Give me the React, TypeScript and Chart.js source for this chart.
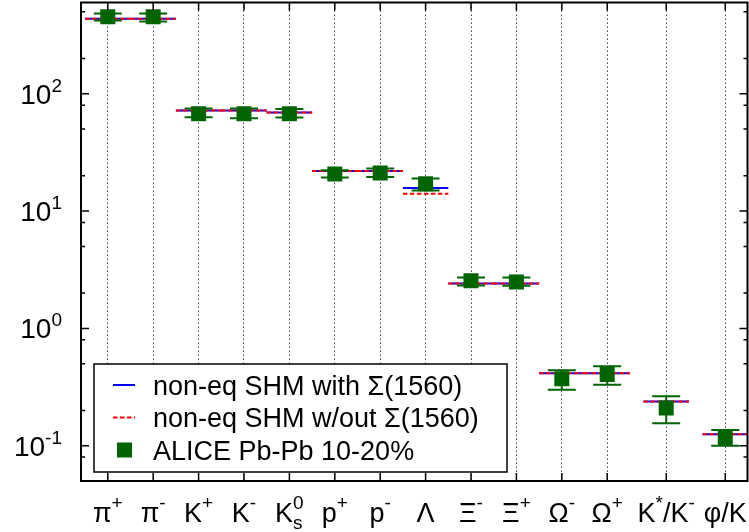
import React, { useEffect, useRef } from "react";
import { Chart, registerables } from "chart.js";

Chart.register(...registerables);

const FONT = '"Liberation Sans", Arial, Helvetica, sans-serif';

// ---- data ----
const categories = ["π^+", "π^-", "K^+", "K^-", "K^0_s", "p^+", "p^-", "Λ", "Ξ^-", "Ξ^+", "Ω^-", "Ω^+", "K^*/K^-", "φ/K"];
const categoryX = [1, 2, 3, 4, 5, 6, 7, 8, 9, 10, 11, 12, 13.3, 14.6];
const modelWith = [436, 436, 72.1, 72.1, 69.2, 22.0, 22.0, 15.7, 2.415, 2.415, 0.415, 0.415, 0.238, 0.125];
const modelWithout = [436, 436, 72.1, 72.1, 69.2, 22.0, 22.0, 14.05, 2.415, 2.415, 0.415, 0.415, 0.238, 0.125];
const aliceValues = [453, 453, 67.5, 67.5, 67.5, 20.7, 21.1, 17.1, 2.545, 2.49, 0.3725, 0.405, 0.21, 0.117];
const aliceUpper = [484, 484, 75, 75, 74, 22.3, 23.1, 19.0, 2.72, 2.72, 0.44, 0.476, 0.264, 0.136];
const aliceLower = [422, 414, 63.2, 61.9, 62.8, 19.3, 19.5, 15.0, 2.32, 2.31, 0.30, 0.33, 0.155, 0.10];
const yTickExponents = [-1, 0, 1, 2];
const yTickLabels = ["10^{-1}", "10^0", "10^1", "10^2"];
const yMinorMantissas = [2, 5, 8];
const seriesLabels = ["non-eq SHM with Σ(1560)", "non-eq SHM w/out Σ(1560)", "ALICE Pb-Pb 10-20%"];

const X_MIN = 0.41;
const X_MAX = 15.09;
const Y_MIN = 0.05;
const Y_MAX = 600;

const BLUE = "#0000ff";
const RED = "#ff0000";
const GREEN = "#006400";

type Piece = { base: string; sup?: string; sub?: string };

function parseLabel(s: string): Piece[] {
  const parts: Piece[] = [];
  let i = 0;
  while (i < s.length) {
    const ch = s[i];
    if ((ch === "^" || ch === "_") && parts.length) {
      let val = "";
      if (s[i + 1] === "{") {
        const end = s.indexOf("}", i + 2);
        val = s.slice(i + 2, end);
        i = end + 1;
      } else {
        val = s[i + 1];
        i += 2;
      }
      const last = parts[parts.length - 1];
      if (ch === "^") last.sup = val;
      else last.sub = val;
    } else {
      parts.push({ base: ch });
      i++;
    }
  }
  return parts;
}

function drawRich(
  ctx: CanvasRenderingContext2D,
  s: string,
  x: number,
  baseline: number,
  align: "center" | "right",
  baseSize: number,
  smallSize: number,
  supRise: number,
  subDrop: number
) {
  const pieces = parseLabel(s);
  const baseFont = `${baseSize}px ${FONT}`;
  const smallFont = `${smallSize}px ${FONT}`;
  let total = 0;
  const widths = pieces.map((p) => {
    ctx.font = baseFont;
    const bw = ctx.measureText(p.base).width;
    ctx.font = smallFont;
    const sw = Math.max(p.sup ? ctx.measureText(p.sup).width : 0, p.sub ? ctx.measureText(p.sub).width : 0);
    total += bw + sw;
    return [bw, sw];
  });
  let cx = align === "center" ? x - total / 2 : x - total;
  ctx.textAlign = "left";
  ctx.textBaseline = "alphabetic";
  pieces.forEach((p, i) => {
    ctx.font = baseFont;
    ctx.fillText(p.base, cx, baseline);
    cx += widths[i][0];
    ctx.font = smallFont;
    if (p.sup) ctx.fillText(p.sup, cx, baseline - supRise);
    if (p.sub) ctx.fillText(p.sub, cx, baseline + subDrop);
    cx += widths[i][1];
  });
}

function segments(values: number[]) {
  const pts: { x: number; y: number | null }[] = [];
  values.forEach((v, i) => {
    const c = categoryX[i];
    pts.push({ x: c - 0.5, y: v }, { x: c + 0.5, y: v }, { x: c + 0.5, y: null });
  });
  return pts;
}

const decorPlugin = {
  id: "decor",
  afterDatasetsDraw(chart: any) {
    const ctx: CanvasRenderingContext2D = chart.ctx;
    const ys = chart.scales.y;
    const meta = chart.getDatasetMeta(2);
    ctx.save();
    ctx.strokeStyle = GREEN;
    ctx.lineWidth = 2;
    meta.data.forEach((pt: any, i: number) => {
      const x = pt.x;
      const yu = ys.getPixelForValue(aliceUpper[i]);
      const yl = ys.getPixelForValue(aliceLower[i]);
      ctx.beginPath();
      ctx.moveTo(x, yu);
      ctx.lineTo(x, yl);
      ctx.moveTo(x - 14, yu);
      ctx.lineTo(x + 14, yu);
      ctx.moveTo(x - 14, yl);
      ctx.lineTo(x + 14, yl);
      ctx.stroke();
    });
    ctx.restore();
  },
  afterDraw(chart: any) {
    const ctx: CanvasRenderingContext2D = chart.ctx;
    const { left, right, top, bottom } = chart.chartArea;
    const xs = chart.scales.x;
    const ys = chart.scales.y;
    ctx.save();

    // legend
    const lx = 94, ly = 364, lw = 413, lh = 108;
    ctx.fillStyle = "#fff";
    ctx.fillRect(lx, ly, lw, lh);
    ctx.strokeStyle = "#000";
    ctx.lineWidth = 1.5;
    ctx.strokeRect(lx, ly, lw, lh);
    const rows = [385, 417.5, 450];
    ctx.lineWidth = 2;
    ctx.strokeStyle = BLUE;
    ctx.setLineDash([]);
    ctx.beginPath();
    ctx.moveTo(113, rows[0]);
    ctx.lineTo(135, rows[0]);
    ctx.stroke();
    ctx.strokeStyle = RED;
    ctx.setLineDash([4.5, 2.5]);
    ctx.beginPath();
    ctx.moveTo(113, rows[1]);
    ctx.lineTo(135, rows[1]);
    ctx.stroke();
    ctx.setLineDash([]);
    ctx.fillStyle = GREEN;
    ctx.fillRect(117, rows[2] - 7.5, 15, 15);
    ctx.fillStyle = "#000";
    ctx.font = `27px ${FONT}`;
    ctx.textAlign = "left";
    ctx.textBaseline = "alphabetic";
    chart.data.datasets.forEach((ds: any, i: number) => {
      ctx.fillText(ds.label, 153, rows[i] + 9.5);
    });

    // frame
    ctx.strokeStyle = "#000";
    ctx.lineWidth = 2;
    ctx.strokeRect(left, top, right - left, bottom - top);

    // x ticks
    ctx.lineWidth = 1.5;
    ctx.beginPath();
    categoryX.forEach((v) => {
      const px = xs.getPixelForValue(v);
      ctx.moveTo(px, bottom);
      ctx.lineTo(px, bottom - 8);
      ctx.moveTo(px, top);
      ctx.lineTo(px, top + 8);
    });
    // y ticks
    yTickExponents.forEach((e) => {
      const py = ys.getPixelForValue(Math.pow(10, e));
      ctx.moveTo(left, py);
      ctx.lineTo(left + 8, py);
      ctx.moveTo(right, py);
      ctx.lineTo(right - 8, py);
    });
    for (let e = -2; e <= 2; e++) {
      yMinorMantissas.forEach((m) => {
        const v = m * Math.pow(10, e);
        if (v <= Y_MIN || v >= Y_MAX) return;
        const py = ys.getPixelForValue(v);
        ctx.moveTo(left, py);
        ctx.lineTo(left + 4, py);
        ctx.moveTo(right, py);
        ctx.lineTo(right - 4, py);
      });
    }
    ctx.stroke();

    // tick labels
    ctx.fillStyle = "#000";
    categories.forEach((c, i) => {
      const px = xs.getPixelForValue(categoryX[i]);
      drawRich(ctx, c, px, 522, "center", 27, 19, 13, 7);
    });
    yTickExponents.forEach((e, i) => {
      const py = ys.getPixelForValue(Math.pow(10, e));
      drawRich(ctx, yTickLabels[i], 62, py + 10, "right", 28, 19, 12, 0);
    });
    ctx.restore();
  },
};

export default function App() {
  const ref = useRef<HTMLCanvasElement | null>(null);
  useEffect(() => {
    if (!ref.current) return;
    const chart = new Chart(ref.current, {
      type: "line",
      data: {
        datasets: [
          {
            label: seriesLabels[0],
            data: segments(modelWith),
            borderColor: BLUE,
            borderWidth: 2,
            pointRadius: 0,
            spanGaps: false,
            order: 3,
          },
          {
            label: seriesLabels[1],
            data: segments(modelWithout),
            borderColor: RED,
            borderWidth: 2,
            borderDash: [4.5, 2.5],
            pointRadius: 0,
            spanGaps: false,
            order: 2,
          },
          {
            label: seriesLabels[2],
            data: aliceValues.map((v, i) => ({ x: categoryX[i], y: v })),
            showLine: false,
            pointStyle: "rect",
            pointRadius: 10.6,
            pointBackgroundColor: GREEN,
            pointBorderWidth: 0,
            borderWidth: 0,
            backgroundColor: GREEN,
            borderColor: GREEN,
            order: 1,
          },
        ] as any,
      },
      options: {
        animation: false,
        responsive: true,
        maintainAspectRatio: false,
        layout: { autoPadding: false, padding: { left: 81, right: 1.5, top: 2.5, bottom: 51 } },
        plugins: { legend: { display: false }, tooltip: { enabled: false } },
        events: [],
        scales: {
          x: {
            type: "linear",
            min: X_MIN,
            max: X_MAX,
            afterBuildTicks: (s: any) => {
              s.ticks = categoryX.map((v) => ({ value: v }));
            },
            afterFit: (s: any) => {
              s.height = 0;
            },
            ticks: { display: false },
            grid: { display: true, drawTicks: false, color: "#444", lineWidth: 1 },
            border: { display: false, dash: [1.5, 2.5] },
          },
          y: {
            type: "logarithmic",
            min: Y_MIN,
            max: Y_MAX,
            afterFit: (s: any) => {
              s.width = 0;
            },
            ticks: { display: false },
            grid: { display: false },
            border: { display: false },
          },
        },
      } as any,
      plugins: [decorPlugin],
    });
    return () => chart.destroy();
  }, []);
  return (
    <div style={{ position: "absolute", left: 0, top: 0, width: 749, height: 532, background: "#fff" }}>
      <canvas ref={ref} />
    </div>
  );
}
